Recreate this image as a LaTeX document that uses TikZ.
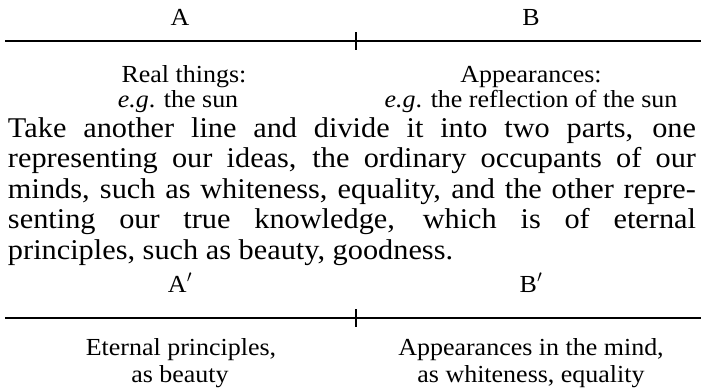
\documentclass[tikz,border=0pt]{standalone}
\usepackage{fontspec}
\setmainfont{Liberation Serif}[FakeStretch=1.06]
\begin{document}
\begin{tikzpicture}[x=1pt,y=1pt,
  every node/.style={inner sep=0pt,outer sep=0pt,font=\fontsize{24.5pt}{28pt}\selectfont},
  lbl/.style={anchor=base},
  para/.style={anchor=base west,font=\fontsize{28.6pt}{31pt}\selectfont},
  divline/.style={line width=2pt},
  ticks/.style={line width=2pt}]
\useasboundingbox (0,0) rectangle (701,-391);
% first divided line
\coordinate (l1s) at (5,-41);
\coordinate (l1e) at (701,-41);
\coordinate (t1a) at (356,-32);
\coordinate (t1b) at (356,-50);
\draw[divline] (l1s) -- (l1e);
\draw[ticks] (t1a) -- (t1b);
\node[lbl] (A) at (180,-25) {A};
\node[lbl] (B) at (531,-25) {B};
\node[lbl] (ra1) at (184,-82) {Real things:};
\node[lbl] (ra2) at (178,-107) {\textit{e.g}. the sun};
\node[lbl] (rb1) at (531,-82) {Appearances:};
\node[lbl] (rb2) at (531,-107) {\textit{e.g}. the reflection of the sun};
% paragraph
\node[para] (p1) at (8,-137) {\hbox to 688pt{Take another line and divide it into two parts, one}};
\node[para] (p2) at (8,-167.5) {\hbox to 688pt{representing our ideas, the ordinary occupants of our}};
\node[para] (p3) at (8,-198) {\hbox to 688pt{minds, such as whiteness, equality, and the other repre-}};
\node[para] (p4) at (8,-228.5) {\hbox to 688pt{senting our true knowledge, which is of eternal}};
\node[para] (p5) at (8,-259) {principles, such as beauty, goodness.};
% second divided line
\coordinate (l2s) at (5,-318);
\coordinate (l2e) at (701,-318);
\coordinate (t2a) at (356,-309);
\coordinate (t2b) at (356,-327);
\draw[divline] (l2s) -- (l2e);
\draw[ticks] (t2a) -- (t2b);
\node[lbl] (A2) at (180,-292) {A$'$};
\node[lbl] (B2) at (531,-292) {B$'$};
\node[lbl] (ea1) at (181,-355) {Eternal principles,};
\node[lbl] (ea2) at (180,-382) {as beauty};
\node[lbl] (eb1) at (531,-355) {Appearances in the mind,};
\node[lbl] (eb2) at (531,-382) {as whiteness, equality};
\end{tikzpicture}
\end{document}
